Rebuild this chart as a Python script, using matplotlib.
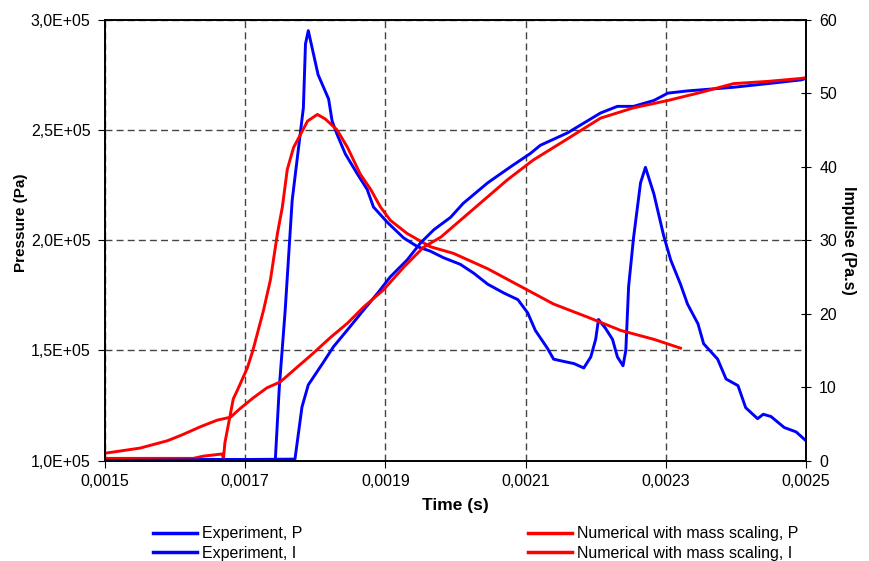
import numpy as np
import matplotlib
matplotlib.use("Agg")
import matplotlib.pyplot as plt
from matplotlib.ticker import FuncFormatter, MultipleLocator
from matplotlib.lines import Line2D

plt.rcParams['font.family'] = ['Liberation Sans', 'DejaVu Sans']

# Experiment, pressure
exp_p_t = [0.001500, 0.001743, 0.0017486, 0.001757, 0.001767, 0.001783, 0.001786, 0.001790,
           0.001797, 0.001804, 0.001819, 0.001824, 0.001831, 0.001843, 0.001860, 0.001874,
           0.001883, 0.001903, 0.001926, 0.001946, 0.001964, 0.001983, 0.002007, 0.002026,
           0.002046, 0.002069, 0.002089, 0.002103, 0.002114, 0.002131, 0.002140, 0.002154,
           0.002169, 0.002183, 0.002193, 0.002200, 0.002204, 0.002214, 0.002224, 0.002231,
           0.002239, 0.002243, 0.002247, 0.002254, 0.002264, 0.002271, 0.002283, 0.002297,
           0.002307, 0.002321, 0.002331, 0.002346, 0.002354, 0.002374, 0.002386, 0.002403,
           0.002414, 0.002431, 0.002439, 0.002450, 0.002469, 0.002486, 0.002500]
exp_p = [1.005e5, 1.005e5, 1.33e5, 1.68e5, 2.18e5, 2.60e5, 2.89e5, 2.95e5,
         2.85e5, 2.75e5, 2.64e5, 2.54e5, 2.48e5, 2.39e5, 2.30e5, 2.23e5,
         2.15e5, 2.08e5, 2.01e5, 1.97e5, 1.95e5, 1.92e5, 1.89e5, 1.85e5,
         1.80e5, 1.76e5, 1.73e5, 1.67e5, 1.59e5, 1.51e5, 1.46e5, 1.45e5,
         1.44e5, 1.42e5, 1.47e5, 1.55e5, 1.64e5, 1.60e5, 1.55e5, 1.47e5,
         1.43e5, 1.50e5, 1.79e5, 2.01e5, 2.26e5, 2.33e5, 2.21e5, 2.02e5,
         1.91e5, 1.80e5, 1.71e5, 1.62e5, 1.53e5, 1.46e5, 1.37e5, 1.34e5,
         1.24e5, 1.19e5, 1.21e5, 1.20e5, 1.15e5, 1.13e5, 1.09e5]

# Numerical with mass scaling, pressure
num_p_t = [0.001500, 0.001626, 0.001640, 0.001667, 0.001669, 0.001671, 0.001683, 0.001689,
           0.001703, 0.001711, 0.001726, 0.001736, 0.001746, 0.001753, 0.001760, 0.001769,
           0.001779, 0.001789, 0.001803, 0.001814, 0.001831, 0.001846, 0.001864, 0.001879,
           0.001893, 0.001907, 0.001931, 0.001964, 0.001997, 0.002046, 0.002093, 0.002140,
           0.002189, 0.002236, 0.002283, 0.002321]
num_p = [1.01e5, 1.01e5, 1.02e5, 1.03e5, 1.01e5, 1.08e5, 1.28e5, 1.32e5,
         1.42e5, 1.50e5, 1.68e5, 1.82e5, 2.03e5, 2.15e5, 2.32e5, 2.42e5,
         2.48e5, 2.54e5, 2.57e5, 2.55e5, 2.50e5, 2.42e5, 2.30e5, 2.23e5,
         2.15e5, 2.09e5, 2.03e5, 1.97e5, 1.94e5, 1.87e5, 1.79e5, 1.71e5,
         1.65e5, 1.59e5, 1.55e5, 1.51e5]

# Experiment, impulse
exp_i_t = [0.001500, 0.001771, 0.001781, 0.001790, 0.001811, 0.001826, 0.001846, 0.001869,
           0.001889, 0.001907, 0.001931, 0.001950, 0.001969, 0.001993, 0.002011, 0.002046,
           0.002079, 0.002107, 0.002121, 0.002160, 0.002207, 0.002231, 0.002254, 0.002283,
           0.002303, 0.002331, 0.002397, 0.002446, 0.002493, 0.002500]
exp_i = [0.0, 0.2, 7.3, 10.3, 13.3, 15.5, 17.8, 20.5,
         22.8, 25.0, 27.3, 29.6, 31.4, 33.1, 35.0, 37.8,
         40.0, 41.8, 42.9, 44.6, 47.3, 48.2, 48.2, 49.0,
         50.0, 50.3, 50.8, 51.3, 51.8, 52.0]

# Numerical with mass scaling, impulse
num_i_t = [0.001500, 0.001550, 0.001589, 0.001610, 0.001636, 0.001660, 0.001679, 0.001693,
           0.001711, 0.001731, 0.001750, 0.001774, 0.001797, 0.001821, 0.001846, 0.001869,
           0.001897, 0.001926, 0.001954, 0.001979, 0.002007, 0.002046, 0.002074, 0.002111,
           0.002150, 0.002207, 0.002254, 0.002303, 0.002350, 0.002397, 0.002446, 0.002493,
           0.002500]
num_i = [1.0, 1.7, 2.7, 3.5, 4.6, 5.5, 5.9, 7.1,
         8.5, 9.9, 10.7, 12.7, 14.6, 16.7, 18.7, 20.9,
         23.2, 26.3, 29.0, 30.4, 32.7, 35.9, 38.2, 40.9,
         43.2, 46.6, 48.0, 49.0, 50.1, 51.3, 51.6, 52.0,
         52.1]

x_ticks = [0.0015, 0.0017, 0.0019, 0.0021, 0.0023, 0.0025]
labels = ['Experiment, P', 'Experiment, I',
          'Numerical with mass scaling, P', 'Numerical with mass scaling, I']

fig = plt.figure(figsize=(8.7, 5.61), dpi=100)
ax = fig.add_axes([0.1207, 0.179, 0.8057, 0.786])
ax2 = ax.twinx()

blue = '#0000ff'
red = '#ff0000'
lw = 2.1

ax.plot(exp_p_t, exp_p, color=blue, lw=lw, zorder=3)
ax.plot(num_p_t, num_p, color=red, lw=lw, zorder=3)
ax2.plot(exp_i_t, exp_i, color=blue, lw=lw)
ax2.plot(num_i_t, num_i, color=red, lw=lw)

ax.set_xlim(0.0015, 0.0025)
ax.set_ylim(1.0e5, 3.0e5)
ax2.set_ylim(0, 60)

ax.set_xticks(x_ticks)
ax.yaxis.set_major_locator(MultipleLocator(0.5e5))
ax2.yaxis.set_major_locator(MultipleLocator(10))
ax.xaxis.set_major_formatter(FuncFormatter(lambda v, p: f"{v:.4f}".replace('.', ',')))
ax.yaxis.set_major_formatter(FuncFormatter(lambda v, p: f"{v:.1E}".replace('.', ',')))

ax.grid(True, color='#444444', linestyle=(0, (5, 3)), linewidth=1.0)
ax.tick_params(axis='both', direction='out', length=5, labelsize=11.5, colors='black')
ax.tick_params(axis='x', pad=5)
ax.tick_params(axis='y', pad=5.5)
ax2.tick_params(axis='y', direction='inout', length=7, labelsize=11.5, pad=6)

for a in (ax, ax2):
    for s in a.spines.values():
        s.set_linewidth(1.2)
        s.set_color('black')

ax.set_xlabel('Time (s)', fontsize=12.5, fontweight='bold', labelpad=6)
ax.set_ylabel('Pressure (Pa)', fontsize=11, fontweight='bold')
ax.yaxis.set_label_coords(-0.11, 0.54)
ax2.set_ylabel('Impulse (Pa.s)', fontsize=11.5, fontweight='bold', rotation=-90, labelpad=14)

h = [Line2D([], [], color=blue, lw=2.5), Line2D([], [], color=blue, lw=2.5),
     Line2D([], [], color=red, lw=2.5), Line2D([], [], color=red, lw=2.5)]
for hh, ll, x0 in [(h[:2], labels[:2], 0.176), (h[2:], labels[2:], 0.607)]:
    fig.legend(hh, ll, loc='center left', bbox_to_anchor=(x0, 0.031),
               frameon=False, fontsize=11.5, handlelength=2.75, handletextpad=0.3,
               labelspacing=0.3, borderaxespad=0, borderpad=0)

fig.savefig('out.png', dpi=100)
